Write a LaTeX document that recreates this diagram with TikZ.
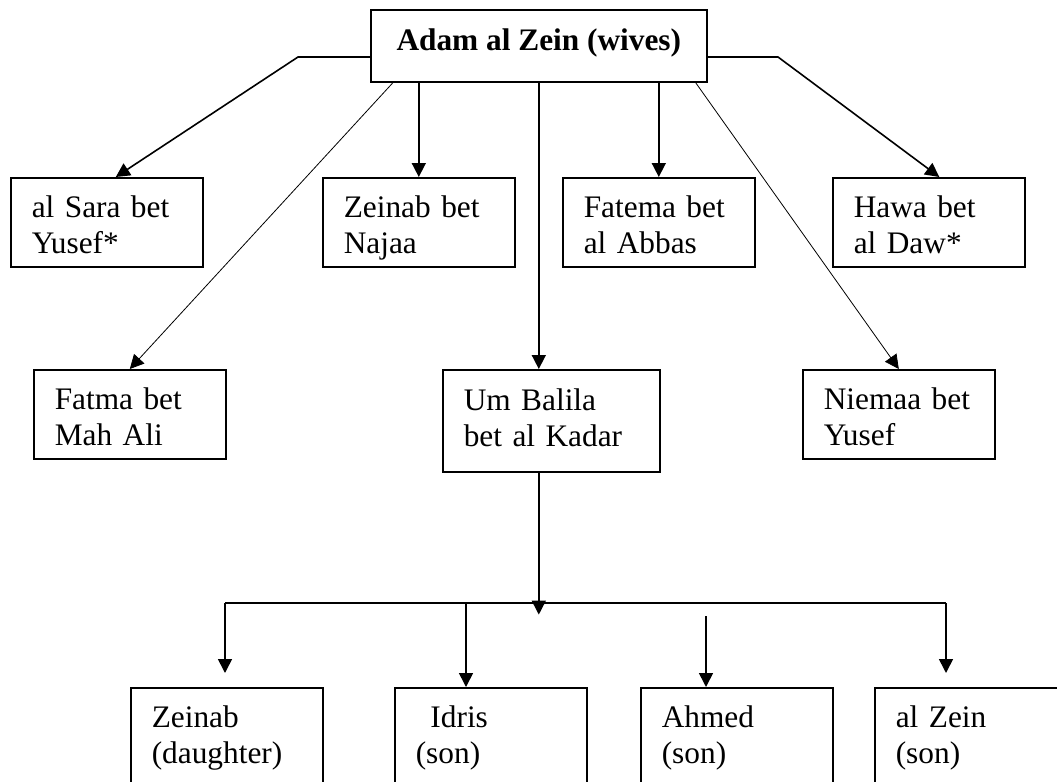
\documentclass[tikz,border=0pt]{standalone}
\usepackage{fontspec}
\setmainfont{Liberation Serif}
\usetikzlibrary{arrows.meta,calc,positioning}
\newcommand{\boxfont}{\fontsize{23.5}{27}\selectfont}
\tikzset{
  wife/.style={draw,line width=1.2pt,anchor=north west,align=left,
    text width=112.5pt,inner xsep=15.75pt,inner ysep=0pt,
    text height=30pt,text depth=36.75pt},
  child/.style={wife,text depth=75pt},
  arrow/.style={-{Triangle[length=10.5pt,width=10.5pt]},line width=1.2pt},
  thinarrow/.style={arrow,line width=0.6pt},
  every node/.style={font=\boxfont}
}

\begin{document}
\begin{tikzpicture}[x=0.75pt,y=-0.75pt]
  \useasboundingbox (0,0) rectangle (1057,782);
  % husband
  \node[draw,line width=1.2pt,anchor=north west,minimum width=252pt,
    inner xsep=0pt,inner ysep=0pt,text height=30.75pt,text depth=23.25pt,
    font=\boxfont\bfseries] (adam) at (370,9) {Adam al Zein (wives)};
  % wives
  \node[wife] (sara) at (10,177) {al Sara bet\\Yusef*};
  \node[wife] (najaa) at (322,177) {Zeinab bet\\Najaa};
  \node[wife] (fatema) at (562,177) {Fatema bet\\al Abbas};
  \node[wife] (hawa) at (832,177) {Hawa bet\\al Daw*};
  \node[wife] (fatma) at (33,369) {Fatma bet\\Mah Ali};
  \node[wife,text width=131.25pt,text height=30.75pt,text depth=45.75pt]
    (balila) at (442,369) {Um Balila\\bet al Kadar};
  \node[wife] (niemaa) at (802,369) {Niemaa bet\\Yusef};
  % children of Um Balila
  \node[child] (zeinab) at (130,687) {Zeinab\\(daughter)};
  \node[child] (idris) at (394,687) {\hspace*{11pt}Idris\\(son)};
  \node[child] (ahmed) at (640,687) {Ahmed\\(son)};
  \node[child] (sonzein) at (874,687) {al Zein\\(son)};

  \coordinate (lknee) at (298,57);
  \coordinate (rknee) at (778,57);
  \draw[arrow] (adam.west |- lknee) -- (lknee) -- ($(sara.north)+(9,0)$);
  \draw[thinarrow] ($(adam.south west)+(23,0)$) -- (fatma.north);
  \draw[arrow] (adam.south -| najaa.north) -- (najaa.north);
  \draw[arrow] (adam.south) -- (adam.south |- balila.north);
  \draw[arrow] (adam.south -| fatema.north) -- (fatema.north);
  \draw[thinarrow] ($(adam.south east)+(-12,0)$) -- (niemaa.north);
  \draw[arrow] (adam.east |- rknee) -- (rknee) -- ($(hawa.north)+(10.5,0)$);

  \coordinate (fork) at ($(balila.south -| adam.south)+(0,142)$);
  \coordinate (busL) at (225,603);
  \coordinate (busR) at (946,603);
  \coordinate (idrisdrop) at ($(idris.north west)+(72,0)$);
  \coordinate (ahmedin) at (706,616);
  \draw[arrow] (balila.south -| adam.south) -- (fork);
  \draw[line width=1.2pt] (busL) -- (busR);
  \draw[arrow] (busL) -- ++(0,70);
  \draw[arrow] (busL -| idrisdrop) -- (idrisdrop);
  \draw[arrow] (ahmedin) -- (ahmedin |- ahmed.north);
  \draw[arrow] (busR) -- ++(0,70);
\end{tikzpicture}
\end{document}
